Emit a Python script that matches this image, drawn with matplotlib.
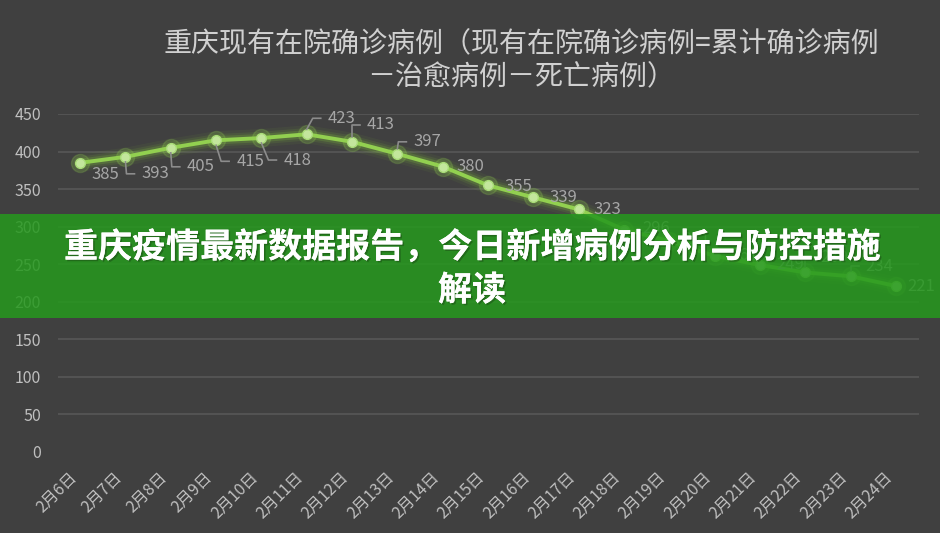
import matplotlib
matplotlib.use("Agg")
import matplotlib.pyplot as plt
import matplotlib.patheffects as pe
from matplotlib.lines import Line2D
from matplotlib.patches import Rectangle
from matplotlib.transforms import IdentityTransform

plt.rcParams['font.family'] = ['Noto Sans CJK SC', 'DejaVu Sans']

# 重庆现有在院确诊病例, 2月6日 - 2月24日
dates = ['2月6日', '2月7日', '2月8日', '2月9日', '2月10日', '2月11日', '2月12日',
         '2月13日', '2月14日', '2月15日', '2月16日', '2月17日', '2月18日',
         '2月19日', '2月20日', '2月21日', '2月22日', '2月23日', '2月24日']
in_hospital = [385, 393, 405, 415, 418, 423, 413, 397, 380, 355, 339, 323,
               296, 281, 261, 249, 239, 234, 221]

# where excel put each data label (pixels from the point, y up) and if it drew a leader
label_dx = [25, 30, 30, 34, 36, 35, 29, 30, 28, 30, 30, 29, 32, 27, 30, 30, 29, 29, 25]
label_dy = [-12, -17, -19, -21, -22, 16, 17, 12, 0, -1, 0, 0, 1, 1, 0, 0, 15, 10, 0]
leader = [False, True, True, True, True, True, True, True, False, False, False, False,
          False, False, False, False, True, True, False]

TITLE_1 = '重庆现有在院确诊病例（现有在院确诊病例=累计确诊病例'
TITLE_2 = '－治愈病例－死亡病例）'
BANNER_1 = '重庆疫情最新数据报告，今日新增病例分析与防控措施'
BANNER_2 = '解读'

BG = '#404040'
W, H = 940, 533


def main():
    fig = plt.figure(figsize=(W / 100, H / 100), dpi=100, facecolor=BG)
    ax = fig.add_axes([57.5 / W, 1 - 452 / H, 861 / W, 338 / H], facecolor=BG)

    x = list(range(len(dates)))
    ax.set_xlim(-0.5, len(dates) - 0.5)
    ax.set_ylim(0, 450)
    ax.set_yticks(range(0, 451, 50))
    ax.grid(axis='y', color='#595959', lw=1.1)
    ax.get_ygridlines()[0].set_visible(False)
    ax.set_axisbelow(True)
    for s in ax.spines.values():
        s.set_visible(False)

    ax.tick_params(length=0, colors='#bfbfbf', labelsize=11.5)
    ax.tick_params(axis='y', pad=12)
    ax.tick_params(axis='x', pad=12)
    ax.set_xticks(x)
    ax.set_xticklabels(dates, rotation=45, ha='right', va='top')

    # soft glow under the line
    for lw, a in [(13, 0.06), (9, 0.1), (6, 0.18)]:
        ax.plot(x, in_hospital, color='#8ad93a', lw=lw, alpha=a, solid_capstyle='round')
    ax.plot(x, in_hospital, 'o', ms=13, color='#92d050', alpha=0.2)
    ax.plot(x, in_hospital, color='#92d050', lw=2.8, marker='o', ms=7,
            mfc='#c3e69c', mec='#a9dc78', mew=1)

    for i, v in enumerate(in_hospital):
        ax.annotate(str(v), (i, v), xytext=(label_dx[i], label_dy[i]),
                    textcoords='offset pixels', ha='center', va='center',
                    color='#a6a6a6', fontsize=12)
        if leader[i]:
            px, py = ax.transData.transform((i, v))
            sgn = 1 if label_dy[i] > 0 else -1
            xs = [px, px + label_dx[i] - 29, px + label_dx[i] - 21]
            ys = [py + sgn * 5, py + label_dy[i], py + label_dy[i]]
            fig.add_artist(Line2D(xs, ys, transform=IdentityTransform(),
                                  color='#8c8c8c', lw=1.2, zorder=2))

    fig.text(521 / W, 1 - 43 / H, TITLE_1, ha='center', va='center',
             color='#d0d0d0', fontsize=20.2)
    fig.text(521 / W, 1 - 76 / H, TITLE_2, ha='center', va='center',
             color='#d0d0d0', fontsize=20.2)

    # green banner laid over the chart
    fig.add_artist(Rectangle((0, 1 - 318 / H), 1, 104 / H, transform=fig.transFigure,
                             facecolor='#26981e', edgecolor='none', alpha=0.86, zorder=10))
    shadow = [pe.withSimplePatchShadow(offset=(1.2, -1.2), shadow_rgbFace='#1a4a14', alpha=0.5),
              pe.Normal()]
    for txt, yy in [(BANNER_1, 247), (BANNER_2, 290)]:
        fig.text(472 / W, 1 - yy / H, txt, ha='center', va='center', color='white',
                 fontsize=24.5, fontweight='heavy', zorder=11, path_effects=shadow)

    fig.savefig('out.png', dpi=100, facecolor=BG)


if __name__ == "__main__":
    main()
